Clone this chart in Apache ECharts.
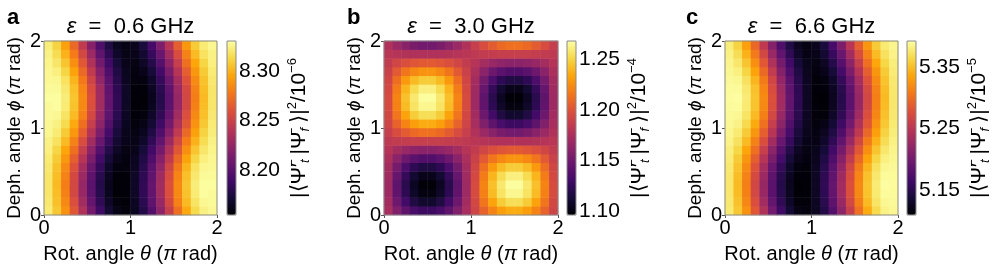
<!DOCTYPE html>
<html><head><meta charset="utf-8">
<script src="https://cdn.jsdelivr.net/npm/echarts@6/dist/echarts.min.js"></script>
<style>html,body{margin:0;padding:0;background:#fff}#c{width:997px;height:269px}</style>
</head><body><div id="c"></div>
<script>
// cell centres (units of pi rad)
const thetaC = [0.05,0.15,0.25,0.35,0.45,0.55,0.65,0.75,0.85,0.95,1.05,1.15,1.25,1.35,1.45,1.55,1.65,1.75,1.85,1.95];
const phiC   = [0.05,0.15,0.25,0.35,0.45,0.55,0.65,0.75,0.85,0.95,1.05,1.15,1.25,1.35,1.45,1.55,1.65,1.75,1.85,1.95];
const axisTicks = [0, 1, 2];

const titles = ['0.6 GHz', '3.0 GHz', '6.6 GHz'];
const letters = ['a', 'b', 'c'];
const cbExp = ['−6', '−4', '−5'];
const cbTicksA = [8.20, 8.25, 8.30];
const cbTicksB = [1.10, 1.15, 1.20, 1.25];
const cbTicksC = [5.15, 5.25, 5.35];
const rangeA = [8.154, 8.331];
const rangeB = [1.096, 1.268];
const rangeC = [5.109, 5.393];

// rows: phi (bottom -> top), columns: theta (left -> right), units 1e-6
const zA = [
[8.322,8.308,8.288,8.263,8.237,8.211,8.188,8.170,8.160,8.157,8.163,8.177,8.197,8.222,8.248,8.274,8.297,8.315,8.325,8.328],
[8.321,8.305,8.284,8.258,8.231,8.205,8.182,8.166,8.157,8.156,8.164,8.180,8.202,8.227,8.255,8.281,8.303,8.319,8.328,8.329],
[8.320,8.304,8.281,8.254,8.227,8.201,8.179,8.163,8.155,8.156,8.165,8.182,8.204,8.231,8.258,8.284,8.306,8.322,8.330,8.329],
[8.320,8.303,8.280,8.254,8.226,8.200,8.178,8.162,8.155,8.156,8.165,8.182,8.205,8.231,8.259,8.285,8.307,8.323,8.330,8.330],
[8.320,8.304,8.282,8.255,8.228,8.202,8.180,8.164,8.156,8.156,8.165,8.181,8.203,8.230,8.257,8.283,8.305,8.321,8.329,8.329],
[8.321,8.306,8.285,8.260,8.233,8.207,8.184,8.167,8.158,8.157,8.164,8.179,8.200,8.225,8.252,8.278,8.301,8.318,8.327,8.328],
[8.322,8.309,8.290,8.266,8.240,8.214,8.190,8.172,8.161,8.158,8.163,8.176,8.195,8.219,8.245,8.271,8.295,8.313,8.324,8.327],
[8.324,8.313,8.296,8.274,8.248,8.222,8.198,8.178,8.165,8.159,8.161,8.172,8.189,8.211,8.237,8.263,8.287,8.307,8.320,8.326],
[8.325,8.318,8.303,8.282,8.257,8.231,8.206,8.185,8.169,8.161,8.160,8.167,8.182,8.203,8.228,8.254,8.279,8.300,8.316,8.325],
[8.327,8.322,8.309,8.290,8.266,8.240,8.215,8.191,8.173,8.162,8.159,8.163,8.176,8.195,8.219,8.245,8.271,8.294,8.312,8.323],
[8.328,8.325,8.315,8.297,8.274,8.248,8.222,8.197,8.177,8.163,8.157,8.160,8.170,8.188,8.211,8.237,8.263,8.288,8.308,8.322],
[8.329,8.328,8.319,8.303,8.281,8.255,8.227,8.202,8.180,8.164,8.156,8.157,8.166,8.182,8.205,8.231,8.258,8.284,8.305,8.321],
[8.329,8.330,8.322,8.306,8.284,8.258,8.231,8.204,8.182,8.165,8.156,8.155,8.163,8.179,8.201,8.227,8.254,8.281,8.304,8.320],
[8.330,8.330,8.323,8.307,8.285,8.259,8.231,8.205,8.182,8.165,8.156,8.155,8.162,8.178,8.200,8.226,8.254,8.280,8.303,8.320],
[8.329,8.329,8.321,8.305,8.283,8.257,8.230,8.203,8.181,8.165,8.156,8.156,8.164,8.180,8.202,8.228,8.255,8.282,8.304,8.320],
[8.328,8.327,8.318,8.301,8.278,8.252,8.225,8.200,8.179,8.164,8.157,8.158,8.167,8.184,8.207,8.233,8.260,8.285,8.306,8.321],
[8.327,8.324,8.313,8.295,8.271,8.245,8.219,8.195,8.176,8.163,8.158,8.161,8.172,8.190,8.214,8.240,8.266,8.290,8.309,8.322],
[8.326,8.320,8.307,8.287,8.263,8.237,8.211,8.189,8.172,8.161,8.159,8.165,8.178,8.198,8.222,8.248,8.274,8.296,8.313,8.324],
[8.325,8.316,8.300,8.279,8.254,8.228,8.203,8.182,8.167,8.160,8.161,8.169,8.185,8.206,8.231,8.257,8.282,8.303,8.318,8.325],
[8.323,8.312,8.294,8.271,8.245,8.219,8.195,8.176,8.163,8.159,8.162,8.173,8.191,8.215,8.240,8.266,8.290,8.309,8.322,8.327]
];
// units 1e-4
const zB = [
[1.173,1.157,1.143,1.133,1.128,1.128,1.133,1.143,1.157,1.173,1.191,1.207,1.221,1.231,1.236,1.236,1.231,1.221,1.207,1.191],
[1.171,1.149,1.131,1.117,1.110,1.110,1.117,1.131,1.149,1.171,1.193,1.215,1.233,1.247,1.254,1.254,1.247,1.233,1.215,1.193],
[1.169,1.144,1.123,1.108,1.100,1.100,1.108,1.123,1.144,1.169,1.195,1.220,1.241,1.256,1.264,1.264,1.256,1.241,1.220,1.195],
[1.169,1.143,1.121,1.106,1.097,1.097,1.106,1.121,1.143,1.169,1.195,1.221,1.243,1.258,1.267,1.267,1.258,1.243,1.221,1.195],
[1.170,1.146,1.125,1.111,1.103,1.103,1.111,1.125,1.146,1.170,1.194,1.218,1.239,1.253,1.261,1.261,1.253,1.239,1.218,1.194],
[1.172,1.152,1.135,1.123,1.117,1.117,1.123,1.135,1.152,1.172,1.192,1.212,1.229,1.241,1.247,1.247,1.241,1.229,1.212,1.192],
[1.175,1.161,1.149,1.141,1.137,1.137,1.141,1.149,1.161,1.175,1.189,1.203,1.215,1.223,1.227,1.227,1.223,1.215,1.203,1.189],
[1.179,1.172,1.167,1.163,1.161,1.161,1.163,1.167,1.172,1.179,1.185,1.192,1.197,1.201,1.203,1.203,1.201,1.197,1.192,1.185],
[1.183,1.185,1.186,1.187,1.187,1.187,1.187,1.186,1.185,1.183,1.181,1.179,1.178,1.177,1.177,1.177,1.177,1.178,1.179,1.181],
[1.187,1.196,1.204,1.210,1.213,1.213,1.210,1.204,1.196,1.187,1.177,1.168,1.160,1.154,1.151,1.151,1.154,1.160,1.168,1.177],
[1.191,1.207,1.221,1.231,1.236,1.236,1.231,1.221,1.207,1.191,1.173,1.157,1.143,1.133,1.128,1.128,1.133,1.143,1.157,1.173],
[1.193,1.215,1.233,1.247,1.254,1.254,1.247,1.233,1.215,1.193,1.171,1.149,1.131,1.117,1.110,1.110,1.117,1.131,1.149,1.171],
[1.195,1.220,1.241,1.256,1.264,1.264,1.256,1.241,1.220,1.195,1.169,1.144,1.123,1.108,1.100,1.100,1.108,1.123,1.144,1.169],
[1.195,1.221,1.243,1.258,1.267,1.267,1.258,1.243,1.221,1.195,1.169,1.143,1.121,1.106,1.097,1.097,1.106,1.121,1.143,1.169],
[1.194,1.218,1.239,1.253,1.261,1.261,1.253,1.239,1.218,1.194,1.170,1.146,1.125,1.111,1.103,1.103,1.111,1.125,1.146,1.170],
[1.192,1.212,1.229,1.241,1.247,1.247,1.241,1.229,1.212,1.192,1.172,1.152,1.135,1.123,1.117,1.117,1.123,1.135,1.152,1.172],
[1.189,1.203,1.215,1.223,1.227,1.227,1.223,1.215,1.203,1.189,1.175,1.161,1.149,1.141,1.137,1.137,1.141,1.149,1.161,1.175],
[1.185,1.192,1.197,1.201,1.203,1.203,1.201,1.197,1.192,1.185,1.179,1.172,1.167,1.163,1.161,1.161,1.163,1.167,1.172,1.179],
[1.181,1.179,1.178,1.177,1.177,1.177,1.177,1.178,1.179,1.181,1.183,1.185,1.186,1.187,1.187,1.187,1.187,1.186,1.185,1.183],
[1.177,1.168,1.160,1.154,1.151,1.151,1.154,1.160,1.168,1.177,1.187,1.196,1.204,1.210,1.213,1.213,1.210,1.204,1.196,1.187]
];
// units 1e-5
const zC = [
[5.378,5.356,5.324,5.284,5.242,5.200,5.163,5.135,5.118,5.114,5.124,5.146,5.178,5.218,5.260,5.302,5.339,5.367,5.384,5.388],
[5.377,5.352,5.317,5.276,5.232,5.190,5.154,5.128,5.113,5.113,5.125,5.150,5.185,5.226,5.270,5.312,5.348,5.374,5.388,5.389],
[5.376,5.349,5.313,5.270,5.226,5.184,5.149,5.124,5.111,5.112,5.126,5.153,5.189,5.232,5.276,5.318,5.353,5.378,5.391,5.390],
[5.376,5.348,5.312,5.269,5.225,5.183,5.148,5.123,5.110,5.111,5.126,5.154,5.190,5.233,5.278,5.319,5.354,5.379,5.392,5.391],
[5.376,5.350,5.314,5.272,5.228,5.186,5.150,5.125,5.112,5.112,5.126,5.152,5.188,5.230,5.274,5.316,5.352,5.377,5.390,5.390],
[5.377,5.353,5.319,5.279,5.235,5.193,5.157,5.130,5.115,5.113,5.125,5.149,5.183,5.223,5.267,5.309,5.345,5.372,5.387,5.389],
[5.379,5.358,5.327,5.289,5.246,5.205,5.167,5.138,5.120,5.115,5.123,5.144,5.175,5.213,5.256,5.297,5.335,5.364,5.382,5.387],
[5.381,5.365,5.337,5.301,5.260,5.218,5.180,5.148,5.126,5.117,5.121,5.137,5.165,5.201,5.242,5.284,5.322,5.354,5.376,5.385],
[5.384,5.372,5.348,5.314,5.275,5.233,5.193,5.159,5.133,5.119,5.118,5.130,5.154,5.188,5.227,5.269,5.309,5.343,5.369,5.383],
[5.386,5.378,5.358,5.327,5.289,5.248,5.206,5.169,5.140,5.122,5.116,5.124,5.144,5.174,5.213,5.254,5.296,5.333,5.362,5.380],
[5.388,5.384,5.367,5.339,5.302,5.260,5.218,5.178,5.146,5.124,5.114,5.118,5.135,5.163,5.200,5.242,5.284,5.324,5.356,5.378],
[5.389,5.388,5.374,5.348,5.312,5.270,5.226,5.185,5.150,5.125,5.113,5.113,5.128,5.154,5.190,5.232,5.276,5.317,5.352,5.377],
[5.390,5.391,5.378,5.353,5.318,5.276,5.232,5.189,5.153,5.126,5.112,5.111,5.124,5.149,5.184,5.226,5.270,5.313,5.349,5.376],
[5.391,5.392,5.379,5.354,5.319,5.278,5.233,5.190,5.154,5.126,5.111,5.110,5.123,5.148,5.183,5.225,5.269,5.312,5.348,5.376],
[5.390,5.390,5.377,5.352,5.316,5.274,5.230,5.188,5.152,5.126,5.112,5.112,5.125,5.150,5.186,5.228,5.272,5.314,5.350,5.376],
[5.389,5.387,5.372,5.345,5.309,5.267,5.223,5.183,5.149,5.125,5.113,5.115,5.130,5.157,5.193,5.235,5.279,5.319,5.353,5.377],
[5.387,5.382,5.364,5.335,5.297,5.256,5.213,5.175,5.144,5.123,5.115,5.120,5.138,5.167,5.205,5.246,5.289,5.327,5.358,5.379],
[5.385,5.376,5.354,5.322,5.284,5.242,5.201,5.165,5.137,5.121,5.117,5.126,5.148,5.180,5.218,5.260,5.301,5.337,5.365,5.381],
[5.383,5.369,5.343,5.309,5.269,5.227,5.188,5.154,5.130,5.118,5.119,5.133,5.159,5.193,5.233,5.275,5.314,5.348,5.372,5.384],
[5.380,5.362,5.333,5.296,5.254,5.213,5.174,5.144,5.124,5.116,5.122,5.140,5.169,5.206,5.248,5.289,5.327,5.358,5.378,5.386]
];

const FONT = 'Liberation Sans, Arial, sans-serif';
const inferno = ['#000004','#160b39','#420a68','#6a176e','#932667','#bc3754','#dd513a','#f37819','#fca50a','#f6d746','#fcffa4'];

function cells(z) {
  const out = [];
  for (let i = 0; i < phiC.length; i++)
    for (let j = 0; j < thetaC.length; j++) out.push([j, i, z[i][j]]);
  return out;
}

const panels = [
  {z: zA, range: rangeA, ticks: cbTicksA, plot: [44, 41, 173, 174], cb: [227, 41, 9, 174], letterX: 7},
  {z: zB, range: rangeB, ticks: cbTicksB, plot: [384, 41, 174, 174], cb: [567, 41, 9, 174], letterX: 347},
  {z: zC, range: rangeC, ticks: cbTicksC, plot: [725, 41, 173, 174], cb: [907, 41, 9, 174], letterX: 686}
];

const grid = [], xAxis = [], yAxis = [], series = [], visualMap = [], title = [];
const txt = {color: '#000', fontFamily: FONT};
const supStyle = {fontSize: 13, verticalAlign: 'top', lineHeight: 26, fontFamily: FONT, color: '#000'};
const supStack = {fontSize: 13, verticalAlign: 'top', lineHeight: 26, fontFamily: FONT, color: '#000', width: 0};
const subStyle = {fontSize: 13, verticalAlign: 'bottom', lineHeight: 26, fontFamily: FONT, color: '#000', fontStyle: 'italic', padding: [0, 5, 0, 0]};

panels.forEach((p, k) => {
  const [l, t, w, h] = p.plot;
  grid.push({left: l, top: t, width: w, height: h, containLabel: false});
  xAxis.push({type: 'category', gridIndex: grid.length - 1, data: thetaC, show: false});
  yAxis.push({type: 'category', gridIndex: grid.length - 1, data: phiC, show: false});
  series.push({type: 'heatmap', xAxisIndex: xAxis.length - 1, yAxisIndex: yAxis.length - 1,
    data: cells(p.z), progressive: 0, emphasis: {disabled: true}, itemStyle: {borderWidth: 0}});
});
panels.forEach((p, k) => {
  const [l, t, w, h] = p.plot;
  grid.push({left: l, top: t, width: w, height: h, show: true, z: 10, backgroundColor: 'transparent',
    borderColor: '#8a8a8a', borderWidth: 1});
  const gi = grid.length - 1;
  xAxis.push({type: 'value', gridIndex: gi, min: 0, max: 2, interval: 1,
    axisLine: {show: false}, splitLine: {show: false},
    axisTick: {show: true, length: 3, lineStyle: {color: '#555'}},
    axisLabel: {fontSize: 20, margin: 3, ...txt, formatter: v => String(v)},
    name: 'Rot. angle {i|θ} ({i|π} rad)', nameLocation: 'middle', nameGap: 29,
    nameTextStyle: {fontSize: 20, ...txt, rich: {i: {fontSize: 20, fontStyle: 'italic', ...txt}}}});
  yAxis.push({type: 'value', gridIndex: gi, min: 0, max: 2, interval: 1,
    axisLine: {show: false}, splitLine: {show: false},
    axisTick: {show: true, length: 3, lineStyle: {color: '#555'}},
    axisLabel: {fontSize: 20, margin: 3, ...txt, formatter: v => String(v)},
    name: 'Deph. angle {i|ϕ} ({i|π} rad)', nameLocation: 'middle', nameGap: 20,
    nameTextStyle: {fontSize: 19, ...txt, rich: {i: {fontSize: 19, fontStyle: 'italic', ...txt}}}});
  title.push({text: '{i|ε}  =  ' + titles[k], left: l + w / 2, top: 16, textAlign: 'center', padding: 0,
    textStyle: {fontSize: 22, fontWeight: 'normal', ...txt, rich: {i: {fontSize: 22, fontStyle: 'italic', ...txt}}}});
  title.push({text: letters[k], left: p.letterX, top: 7, padding: 0,
    textStyle: {fontSize: 22, fontWeight: 'bold', ...txt}});
});
panels.forEach((p, k) => {
  const [l, t, w, h] = p.cb;
  grid.push({left: l, top: t, width: w, height: h, show: true, z: 10, backgroundColor: 'transparent',
    borderColor: '#8a8a8a', borderWidth: 1});
  const gi = grid.length - 1;
  xAxis.push({type: 'value', gridIndex: gi, min: 0, max: 1, show: false});
  yAxis.push({type: 'value', gridIndex: gi, min: p.range[0], max: p.range[1], position: 'right',
    axisLine: {show: false}, splitLine: {show: false},
    axisTick: {show: true, length: 3, customValues: p.ticks, lineStyle: {color: '#555'}},
    axisLabel: {fontSize: 21, margin: 3, ...txt, customValues: p.ticks, formatter: v => v.toFixed(2)},
    name: '|⟨Ψ′{q|−}{s|t}|Ψ{q|−}{s|f}⟩|{p|2}/10{p|' + cbExp[k] + '}', nameLocation: 'middle', nameRotate: 90, nameGap: 50,
    nameTextStyle: {fontSize: 21, lineHeight: 26, ...txt, rich: {p: supStyle, q: supStack, s: subStyle}}});
  visualMap.push({type: 'continuous', seriesIndex: k, dimension: 2, min: p.range[0], max: p.range[1],
    calculable: false, orient: 'vertical', left: l, top: t, itemWidth: w, itemHeight: h, padding: 0,
    inRange: {color: inferno}, hoverLink: false});
});

const chart = echarts.init(document.getElementById('c'), null, {renderer: 'canvas'});
chart.setOption({animation: false, backgroundColor: '#fff', title, grid, xAxis, yAxis, series, visualMap});
</script></body></html>
